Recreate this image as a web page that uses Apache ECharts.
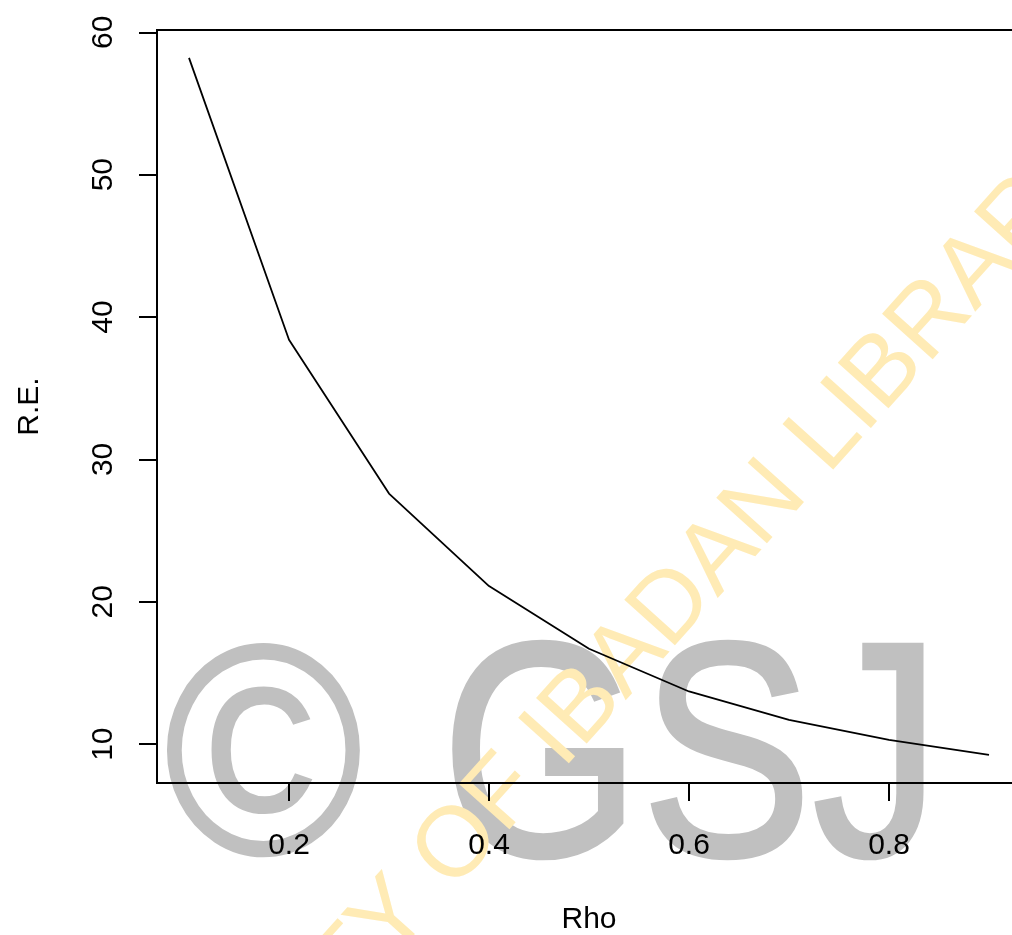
<!DOCTYPE html>
<html>
<head>
<meta charset="utf-8">
<script src="https://cdn.jsdelivr.net/npm/echarts@6/dist/echarts.min.js"></script>
<style>
  html, body { margin: 0; padding: 0; background: #fff; }
  #chart { width: 1012px; height: 935px; }
</style>
</head>
<body>
<div id="chart"></div>
<script>
// Data
const rho = [0.1, 0.2, 0.3, 0.4, 0.5, 0.6, 0.7, 0.8, 0.9];
const relEff = [58.2, 38.4, 27.6, 21.1, 16.7, 13.7, 11.7, 10.3, 9.25];
const xTicks = [0.2, 0.4, 0.6, 0.8];
const yTicks = [10, 20, 30, 40, 50, 60];
const xTitle = 'Rho';
const yTitle = 'R.E.';
const watermarkGray = ['©', 'GSJ'];
const watermarkYellow = 'UNIVERSITY OF IBADAN LIBRARY';

const FONT = '"Liberation Sans", Arial, sans-serif';
const chart = echarts.init(document.getElementById('chart'), null, { renderer: 'canvas' });

const option = {
  animation: false,
  backgroundColor: '#ffffff',
  grid: {
    left: 157, top: 30, width: 864, height: 753,
    show: true, borderColor: '#000', borderWidth: 2,
    containLabel: false, outerBoundsMode: 'none'
  },
  graphic: {
    elements: [
      {
        type: 'text', x: 164, y: 771, scaleX: 0.9, z: -10, silent: true,
        style: { text: watermarkGray[0], font: '300px ' + FONT, fill: '#c0c0c0',
                 stroke: '#c0c0c0', lineWidth: 2.5,
                 textAlign: 'left', textVerticalAlign: 'middle' }
      },
      {
        type: 'text', x: 441, y: 771, scaleX: 0.84, z: -10, silent: true,
        style: { text: watermarkGray[1], font: '306px ' + FONT, fill: '#c0c0c0',
                 stroke: '#c0c0c0', lineWidth: 4,
                 textAlign: 'left', textVerticalAlign: 'middle' }
      },
      {
        type: 'text', x: 553, y: 740, rotation: 48 * Math.PI / 180, z: -9, silent: true,
        style: { text: watermarkYellow, font: '99px ' + FONT, fill: '#ffebb5',
                 textAlign: 'center', textVerticalAlign: 'middle' }
      }
    ]
  },
  xAxis: {
    type: 'value', min: 0.068, max: 0.932,
    name: xTitle, nameLocation: 'middle', nameGap: 122,
    nameTextStyle: { fontFamily: FONT, fontSize: 30, color: '#000' },
    axisLine: { show: true, lineStyle: { color: '#000', width: 2 } },
    axisTick: { show: true, length: 18, customValues: xTicks, lineStyle: { color: '#000', width: 2 } },
    axisLabel: { customValues: xTicks, margin: 48, fontFamily: FONT, fontSize: 30, color: '#000',
                 formatter: v => v.toFixed(1) },
    splitLine: { show: false }
  },
  yAxis: {
    type: 'value', min: 7.27, max: 60.16,
    name: yTitle, nameLocation: 'middle', nameGap: 112, nameRotate: 90,
    nameTextStyle: { fontFamily: FONT, fontSize: 30, color: '#000' },
    axisLine: { show: true, lineStyle: { color: '#000', width: 2 } },
    axisTick: { show: true, length: 18, customValues: yTicks, lineStyle: { color: '#000', width: 2 } },
    axisLabel: { customValues: yTicks, margin: 38, rotate: 90, align: 'center', verticalAlign: 'bottom',
                 fontFamily: FONT, fontSize: 30, color: '#000', formatter: v => String(v) },
    splitLine: { show: false }
  },
  series: [{
    type: 'line',
    data: rho.map((x, i) => [x, relEff[i]]),
    showSymbol: false,
    lineStyle: { color: '#000', width: 1.8 },
    z: 10
  }]
};
chart.setOption(option);
</script>
</body>
</html>
